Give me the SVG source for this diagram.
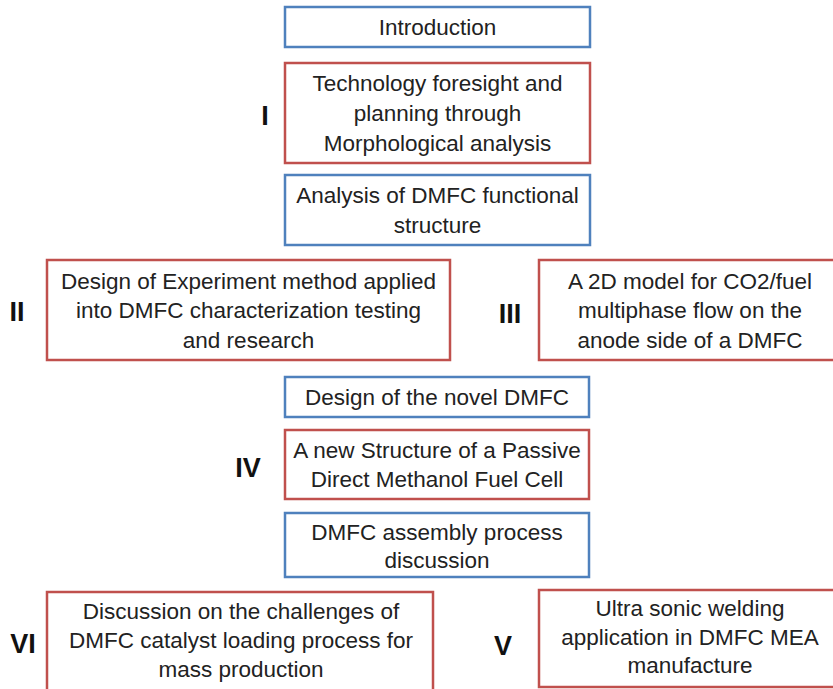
<svg xmlns="http://www.w3.org/2000/svg" width="833" height="689" viewBox="0 0 833 689">
<style>
.b{fill:#fff;stroke:#4F81BD;stroke-width:2.5}
.r{fill:#fff;stroke:#C0504D;stroke-width:2.5}
.t{font-family:"Liberation Sans",Arial,sans-serif;font-size:22.5px;fill:#222;text-anchor:middle}
.n{font-family:"Liberation Sans",Arial,sans-serif;font-size:27px;font-weight:bold;fill:#111;text-anchor:middle}
</style>
<g id="connectors"></g>
<g id="intro"><rect class="b" x="285" y="7" width="305" height="40"/><text class="t" x="437.5" y="35">Introduction</text></g>
<g id="n1"><rect class="r" x="285" y="63" width="305" height="100"/>
<text class="t" x="437.5" y="91">Technology foresight and</text>
<text class="t" x="437.5" y="121">planning through</text>
<text class="t" x="437.5" y="151">Morphological analysis</text>
<text class="n" x="265" y="125">I</text></g>
<g id="analysis"><rect class="b" x="285" y="175" width="305" height="70"/>
<text class="t" x="437.5" y="203">Analysis of DMFC functional</text>
<text class="t" x="437.5" y="233">structure</text></g>
<g id="n2"><rect class="r" x="47" y="260" width="403" height="100"/>
<text class="t" x="248.5" y="289">Design of Experiment method applied</text>
<text class="t" x="248.5" y="318">into DMFC characterization testing</text>
<text class="t" x="248.5" y="348">and research</text>
<text class="n" x="17" y="321">II</text></g>
<g id="n3"><rect class="r" x="539" y="260" width="300" height="100"/>
<text class="t" x="690" y="289">A 2D model for CO2/fuel</text>
<text class="t" x="690" y="318">multiphase flow on the</text>
<text class="t" x="690" y="348">anode side of a DMFC</text>
<text class="n" x="510" y="323">III</text></g>
<g id="design"><rect class="b" x="285" y="377" width="304" height="40"/>
<text class="t" x="437" y="405">Design of the novel DMFC</text></g>
<g id="n4"><rect class="r" x="285" y="430" width="304" height="69"/>
<text class="t" x="437" y="458">A new Structure of a Passive</text>
<text class="t" x="437" y="487">Direct Methanol Fuel Cell</text>
<text class="n" x="248" y="477">IV</text></g>
<g id="assembly"><rect class="b" x="285" y="513" width="304" height="64"/>
<text class="t" x="437" y="540">DMFC assembly process</text>
<text class="t" x="437" y="568">discussion</text></g>
<g id="n6"><rect class="r" x="47" y="592" width="386" height="110"/>
<text class="t" x="241" y="619">Discussion on the challenges of</text>
<text class="t" x="241" y="648">DMFC catalyst loading process for</text>
<text class="t" x="241" y="677">mass production</text>
<text class="n" x="23" y="653">VI</text></g>
<g id="n5"><rect class="r" x="539" y="590" width="300" height="97"/>
<text class="t" x="690" y="616">Ultra sonic welding</text>
<text class="t" x="690" y="645">application in DMFC MEA</text>
<text class="t" x="690" y="673">manufacture</text>
<text class="n" x="503" y="655">V</text></g>
</svg>
